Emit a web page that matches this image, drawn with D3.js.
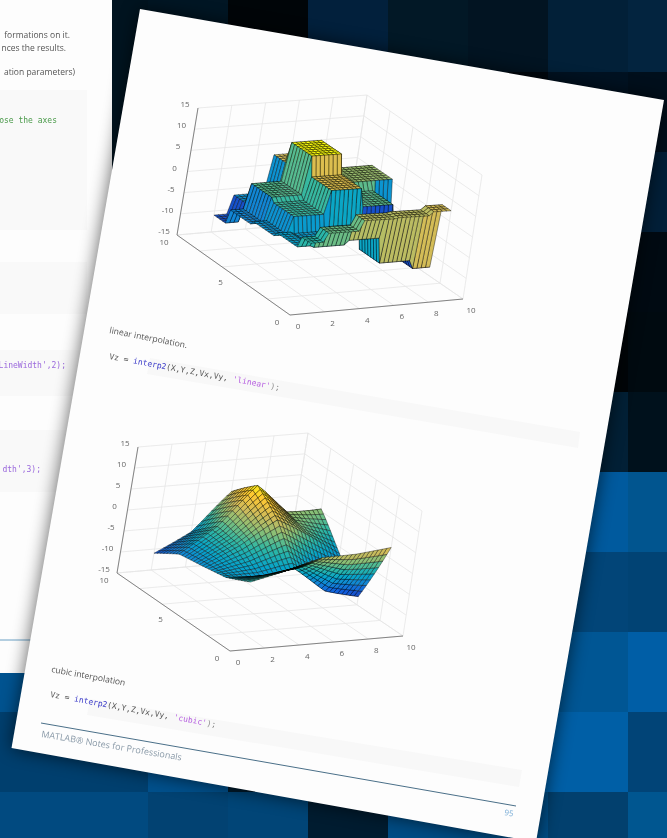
<!DOCTYPE html>
<html><head><meta charset="utf-8">
<script src="https://cdn.jsdelivr.net/npm/d3@7"></script>
<style>html,body{margin:0;padding:0;background:#000;overflow:hidden}svg{display:block;filter:blur(.7px)}</style>
</head><body><svg id="c" width="667" height="838"></svg>
<script>
// ---- data ----
const xNodes = [2,4,6,8,10];
const yNodes = [2,4,6,8,10];
const zRowY2  = [-3,  -1,   1.4, 1.6, 2.5];
const zRowY4  = [-5.6,-6,  -5,  -11, -13];
const zRowY6  = [-6.6,-2.5, 3,  -1.4,-6.5];
const zRowY8  = [-7.5,-1.6, 7.5, 0.5, 0.5];
const zRowY10 = [-11, -6.6, 2.3,-6,  -7];
const zTicks = [-15,-10,-5,0,5,10,15];
const yTicks = [0,5,10];
const xTicks = [0,2,4,6,8,10];
const yGrid = [0,2,4,6,8,10];
// background tiles, row by row
const tileRows = [
 ["#011420","#011420","#011624","#000508","#02203c","#021826","#021422","#022038","#03243f"],
 ["#011420","#011420","#01131f","#000508","#011a2e","#01121e","#00080f","#011222","#000f1c"],
 ["#011420","#011420","#01131f","#01121e","#011a2c","#011a2c","#01121e","#01182a","#021f38"],
 ["#011420","#011420","#01131f","#011a2e","#011a2c","#01121e","#010a12","#000a12","#000a12"],
 ["#011420","#011420","#01131f","#011a2e","#011a2c","#01121e","#010a12","#000508","#000a10"],
 ["#011420","#011420","#01131f","#011a2e","#011a2c","#01121e","#022036","#022036","#00111c"],
 ["#01396a","#01396a","#013f6e","#014a80","#014a80","#013f6e","#005a9e","#005a9e","#01558f"],
 ["#01396a","#01396a","#013f6e","#014a80","#014a80","#013f6e","#024578","#024578","#014374"],
 ["#005390","#005390","#014a80","#014a80","#014a80","#005694","#005694","#005694","#005ea6"],
 ["#003f6e","#003f6e","#01508c","#001a2c","#001522","#01508c","#005fa6","#005fa6","#014477"],
 ["#014a80","#014a80","#024272","#014577","#001c30","#014c84","#014d85","#02406e","#005690"]
];
const pageCorners = [[140,9],[664,100],[536,842],[11.5,748]];
const parulaStops = ["#352a87","#0f5cdd","#1481d6","#06a4ca","#2eb7a4","#87bf77","#d1bb59","#fec832","#f9fb0e"];

const zGrid = [zRowY2,zRowY4,zRowY6,zRowY8,zRowY10];
const svg = d3.select("#c");
const defs = svg.append("defs");
defs.append("filter").attr("id","sh").attr("x","-20%").attr("y","-20%").attr("width","140%").attr("height","140%")
  .append("feGaussianBlur").attr("stdDeviation",9);

// background
const tileX = d3.scaleLinear().domain([0,1]).range([-12,68]);
const tileY = d3.scaleLinear().domain([0,1]).range([-8,72]);
svg.append("g").selectAll("g").data(tileRows).join("g").each(function(row,r){
  d3.select(this).selectAll("rect").data(row).join("rect")
    .attr("x",(d,c)=>tileX(c)).attr("y",tileY(r)).attr("width",81).attr("height",81).attr("fill",d=>d);
});

// left page
svg.append("rect").attr("x",0).attr("y",0).attr("width",112).attr("height",673).attr("fill","#fdfdfd");
const gapBlocks = [[90,140],[262,52],[350,46],[430,62]];
svg.append("g").selectAll("rect").data(gapBlocks).join("rect")
  .attr("x",0).attr("y",d=>d[0]).attr("width",87).attr("height",d=>d[1]).attr("fill","#f9f9f9");
svg.append("line").attr("x1",0).attr("x2",34).attr("y1",640).attr("y2",640).attr("stroke","#6aa0c4").attr("stroke-width",1);
const leftText = [
 ["formations on it.",70,38,"#555","Open Sans",8.5],
 ["nces the results.",66,51,"#555","Open Sans",8.5],
 ["ation parameters)",75,75,"#555","Open Sans",8.5],
 ["ose the axes",57,123,"#4a9a4a","DejaVu Sans Mono",8],
 ["LineWidth',2);",66,368,"#9a68dc","DejaVu Sans Mono",8],
 ["dth',3);",41,472,"#9a68dc","DejaVu Sans Mono",8]
];
svg.append("g").selectAll("text").data(leftText).join("text")
  .attr("x",d=>d[1]).attr("y",d=>d[2]).attr("text-anchor","end").attr("fill",d=>d[3])
  .attr("font-family",d=>d[4]).attr("font-size",d=>d[5]).text(d=>d[0]);

// main page with its shadow
const pagePath = d3.line().curve(d3.curveLinearClosed);
svg.append("path").attr("d",pagePath(pageCorners)).attr("fill","#000").attr("opacity",.62).attr("filter","url(#sh)");
svg.append("path").attr("d",pagePath(pageCorners)).attr("fill","#fdfdfd");

// code strips
const strips = [[[150,358],[580,432],[578,448],[147,374]],[[90,699],[522,770],[519,787],[87,715]]];
svg.append("g").selectAll("path").data(strips).join("path").attr("d",d=>pagePath(d)).attr("fill","#f8f8f8");

// parula colour map
const parula = d3.scaleLinear().domain(d3.range(parulaStops.length).map(i=>i/(parulaStops.length-1))).range(parulaStops).interpolate(d3.interpolateRgb);
const zExtent = d3.extent(zGrid.flat());
const colorT = d3.scaleLinear().domain(zExtent).range([0,1]).clamp(true);

// surface functions
const sx = d3.scaleLinear().domain([xNodes[0],xNodes[4]]).range([0,4]);
const sy = d3.scaleLinear().domain([yNodes[0],yNodes[4]]).range([0,4]);
function nearest(x,y){
  const i=Math.floor(sx(x)+.5+1e-9), j=Math.floor(sy(y)+.5+1e-9);
  return zGrid[j][i];
}
function node(i,j){
  if(i<0) return 3*node(0,j)-3*node(1,j)+node(2,j);
  if(i>4) return 3*node(4,j)-3*node(3,j)+node(2,j);
  if(j<0) return 3*node(i,0)-3*node(i,1)+node(i,2);
  if(j>4) return 3*node(i,4)-3*node(i,3)+node(i,2);
  return zGrid[j][i];
}
function keys(t){
  t=Math.abs(t);
  if(t<=1) return 1.5*t*t*t-2.5*t*t+1;
  if(t<2) return -.5*t*t*t+2.5*t*t-4*t+2;
  return 0;
}
function cubic(x,y){
  const u=sx(x), v=sy(y), i0=Math.min(3,Math.floor(u)), j0=Math.min(3,Math.floor(v));
  let s=0;
  for(let j=j0-1;j<=j0+2;j++) for(let i=i0-1;i<=i0+2;i++) s+=node(i,j)*keys(u-i)*keys(v-j);
  const a=u-i0,b=v-j0;
  const lin=(1-a)*(1-b)*node(i0,j0)+a*(1-b)*node(i0+1,j0)+(1-a)*b*node(i0,j0+1)+a*b*node(i0+1,j0+1);
  return .85*lin+.15*s;
}

const plots = [
 {f:nearest, samples:d3.range(0,33).map(k=>2+k/4), sw:.65, so:.62, corners:{a000:[290,315],a100:[463,299],a010:[177,235],a110:[348,220],a001:[312,180],a101:[482,175],a011:[198,108],a111:[367,95]}},
 {f:cubic,   samples:d3.range(0,33).map(k=>2+k/4), sw:.6, so:.62, corners:{a000:[230,651],a100:[403,636],a010:[117,573],a110:[288,558],a001:[252,525],a101:[422,511],a011:[138,447],a111:[308,433]}}
];
const ux=d3.scaleLinear().domain([0,10]).range([0,1]);
const uy=d3.scaleLinear().domain([0,10]).range([0,1]);
const uz=d3.scaleLinear().domain([-15,15]).range([0,1]);

plots.forEach(p=>{
  const c=p.corners, samples=p.samples;
  const proj=(x,y,z)=>{
    const a=ux(x),b=uy(y),w=uz(z);
    const l=k=>(1-a)*(1-b)*(1-w)*c.a000[k]+a*(1-b)*(1-w)*c.a100[k]+(1-a)*b*(1-w)*c.a010[k]+a*b*(1-w)*c.a110[k]
      +(1-a)*(1-b)*w*c.a001[k]+a*(1-b)*w*c.a101[k]+(1-a)*b*w*c.a011[k]+a*b*w*c.a111[k];
    return [l(0),l(1)];
  };
  const g=svg.append("g");
  const seg=[];
  zTicks.forEach(z=>{seg.push([proj(0,10,z),proj(10,10,z)]);seg.push([proj(10,10,z),proj(10,0,z)]);});
  yGrid.forEach(v=>{
    seg.push([proj(v,10,-15),proj(v,10,15)]);
    seg.push([proj(10,v,-15),proj(10,v,15)]);
    seg.push([proj(v,0,-15),proj(v,10,-15)]);
    seg.push([proj(0,v,-15),proj(10,v,-15)]);
  });
  g.append("g").selectAll("line").data(seg).join("line")
    .attr("x1",d=>d[0][0]).attr("y1",d=>d[0][1]).attr("x2",d=>d[1][0]).attr("y2",d=>d[1][1])
    .attr("stroke","#e6e6e6").attr("stroke-width",.8);
  const ax=[[proj(0,0,-15),proj(10,0,-15)],[proj(0,0,-15),proj(0,10,-15)],[proj(0,10,-15),proj(0,10,15)]];
  g.append("g").selectAll("line").data(ax).join("line")
    .attr("x1",d=>d[0][0]).attr("y1",d=>d[0][1]).attr("x2",d=>d[1][0]).attr("y2",d=>d[1][1])
    .attr("stroke","#777").attr("stroke-width",.9);
  const ticks=[];
  xTicks.forEach(v=>ticks.push({t:v,at:proj(v,0,-15),dx:8,dy:11}));
  yTicks.forEach(v=>ticks.push({t:v,at:proj(0,v,-15),dx:-13,dy:7}));
  zTicks.forEach(v=>ticks.push({t:v,at:proj(0,10,v),dx:-13,dy:-4}));
  g.append("g").selectAll("text").data(ticks).join("text")
    .attr("x",d=>d.at[0]+d.dx).attr("y",d=>d.at[1]+d.dy+3).attr("text-anchor","middle")
    .attr("font-family","Open Sans").attr("font-size",8).attr("fill","#666").text(d=>d.t);
  const facets=[];
  for(let i=samples.length-2;i>=0;i--) for(let j=samples.length-2;j>=0;j--){
    const x0=samples[i],x1=samples[i+1],y0=samples[j],y1=samples[j+1];
    const z00=p.f(x0,y0);
    facets.push({z:z00,d:pagePath([proj(x0,y0,z00),proj(x1,y0,p.f(x1,y0)),proj(x1,y1,p.f(x1,y1)),proj(x0,y1,p.f(x0,y1))])});
  }
  g.append("g").selectAll("path").data(facets).join("path")
    .attr("d",d=>d.d).attr("fill",d=>parula(colorT(d.z)))
    .attr("stroke","#000").attr("stroke-opacity",p.so).attr("stroke-width",p.sw);
});

// page text
const textPlain=[
 {t:"linear interpolation.",x:109,y:333,a:11,c:"#555",s:8.6,f:"Open Sans"},
 {t:"cubic interpolation",x:51,y:672,a:10.5,c:"#555",s:8.6,f:"Open Sans"},
 {t:"MATLAB® Notes for Professionals",x:41,y:737,a:9.5,c:"#8a9aa8",s:9,f:"Open Sans"},
 {t:"95",x:504,y:815,a:9.5,c:"#7fb0d8",s:8,f:"Open Sans"}
];
svg.append("g").selectAll("text").data(textPlain).join("text")
  .attr("transform",d=>`translate(${d.x},${d.y}) rotate(${d.a})`)
  .attr("fill",d=>d.c).attr("font-size",d=>d.s).attr("font-family",d=>d.f).text(d=>d.t);
const codeLines=[
 {x:109,y:359,parts:["Vz = ","interp2","(X,Y,Z,Vx,Vy, ","'linear'",");"]},
 {x:50,y:697,parts:["Vz = ","interp2","(X,Y,Z,Vx,Vy, ","'cubic'",");"]}
];
const codeColors=["#555","#3a3ac8","#555","#b65ee0","#888"];
svg.append("g").selectAll("text").data(codeLines).join("text")
  .attr("transform",d=>`translate(${d.x},${d.y}) rotate(10.4)`)
  .attr("font-family","DejaVu Sans Mono").attr("font-size",8)
  .selectAll("tspan").data(d=>d.parts).join("tspan").attr("fill",(d,i)=>codeColors[i]).style("white-space","pre").text(d=>d);
svg.append("line").attr("x1",41).attr("y1",723).attr("x2",516).attr("y2",806).attr("stroke","#4a6f88").attr("stroke-width",1);
</script></body></html>
